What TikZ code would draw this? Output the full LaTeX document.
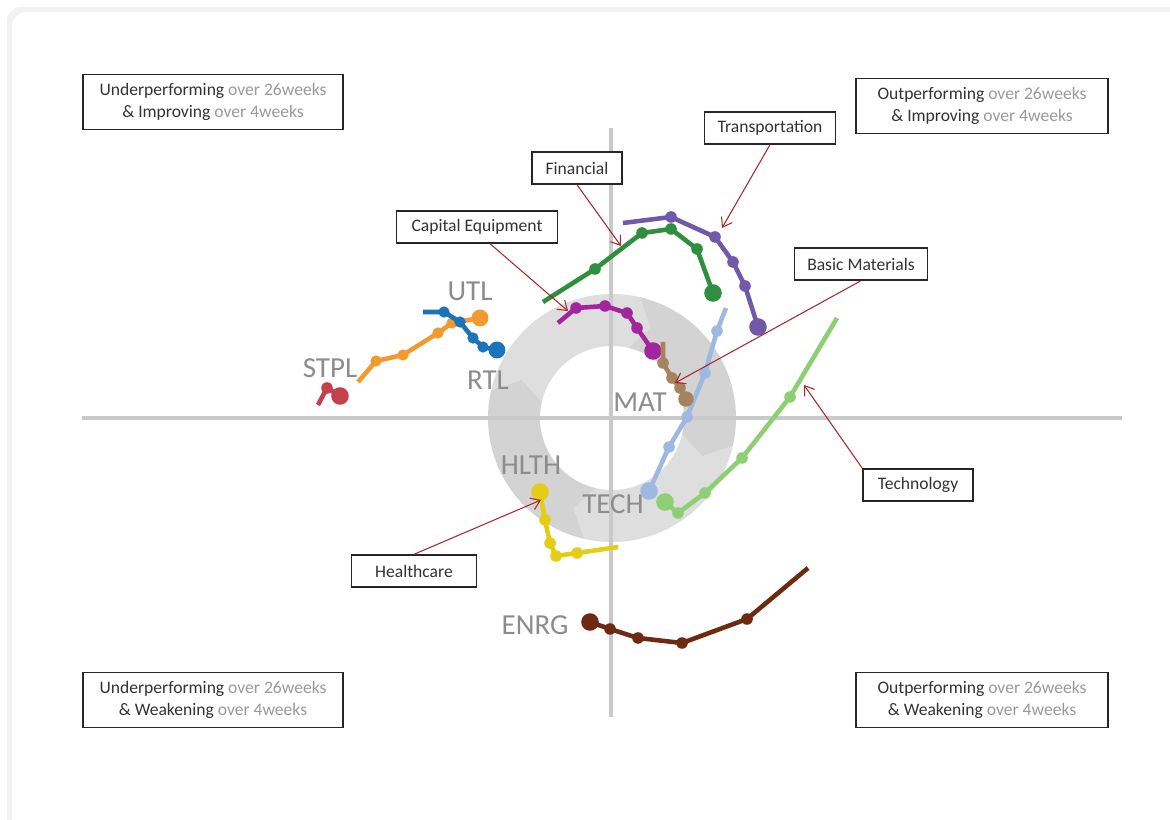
\documentclass[tikz,border=0pt]{standalone}
\usepackage{fontspec}
\setmainfont{Carlito}
\usetikzlibrary{arrows.meta}

\definecolor{axisgray}{HTML}{C9C9C9}
\definecolor{ringa}{HTML}{DEDEDE}
\definecolor{ringb}{HTML}{D3D3D3}
\definecolor{txtdark}{HTML}{333333}
\definecolor{txtgray}{HTML}{9A9A9A}
\definecolor{arrowred}{HTML}{A8282A}
\definecolor{stplcol}{HTML}{C4404A}
\definecolor{utlcol}{HTML}{F29A2E}
\definecolor{rtlcol}{HTML}{1B73BA}
\definecolor{fincol}{HTML}{2F8F3F}
\definecolor{trncol}{HTML}{7158A8}
\definecolor{capcol}{HTML}{A3259E}
\definecolor{matcol}{HTML}{A6835C}
\definecolor{techcol}{HTML}{9DB9E2}
\definecolor{tclcol}{HTML}{8DCF72}
\definecolor{hlthcol}{HTML}{E5CC15}
\definecolor{enrgcol}{HTML}{6E2A10}

\tikzstyle{quad} = [rectangle,draw=black!85,line width=0.8pt,fill=white,align=center,minimum height=1.1cm,text=txtdark]
\tikzstyle{callout} = [rectangle,draw=black!85,line width=0.8pt,fill=white,minimum height=0.64cm,text=txtdark]
\tikzstyle{pointer} = [draw=arrowred,line width=0.6pt,-{Straight Barb[length=5pt,width=7pt]}]
\tikzstyle{ticker} = [font=\fontsize{16.5}{18}\selectfont,text=black!45]
\tikzstyle{trail} = [line width=2.6pt,line join=round]
\tikzstyle{every node}=[font=\fontsize{10}{12.5}\selectfont]

\begin{document}
\begin{tikzpicture}[x=0.02cm,y=-0.02cm]
	\useasboundingbox (0,0) rectangle (1170,820);
	\fill[white] (0,0) rectangle (1170,820);
	\fill[black!5,rounded corners=8pt] (7,7) rectangle (1200,850);
	\fill[white,rounded corners=8pt] (12,12) rectangle (1200,850);
	\begin{scope}[shift={(612,418)}]
		\foreach \a/\b/\c in {13/103/ringa,103/193/ringb,193/283/ringa,283/373/ringb}
		{
		\pgfmathsetmacro\at{\a+10}
		\pgfmathsetmacro\bt{\b+10}
		\fill[\c] (\a:124) -- plot[domain=\a:\b,samples=40] (\x:124) -- (\bt:98) -- (\b:72)
			-- plot[domain=\b:\a,samples=40] (\x:72) -- (\at:98) -- cycle;
		}
	\end{scope}
	\draw[axisgray,line width=2.8pt] (82,418) -- (1122,418);
	\draw[axisgray,line width=2.8pt] (611,128) -- (611,717);

	\node[quad,minimum width=5.2cm] (q1) at (213,102) {Underperforming {\color{txtgray}over 26weeks}\\\& Improving {\color{txtgray}over 4weeks}};
	\node[quad,minimum width=5.04cm] (q2) at (982,106) {Outperforming {\color{txtgray}over 26weeks}\\\& Improving {\color{txtgray}over 4weeks}};
	\node[quad,minimum width=5.2cm] (q3) at (213,700) {Underperforming {\color{txtgray}over 26weeks}\\\& Weakening {\color{txtgray}over 4weeks}};
	\node[quad,minimum width=5.04cm] (q4) at (982,700) {Outperforming {\color{txtgray}over 26weeks}\\\& Weakening {\color{txtgray}over 4weeks}};

	\node[ticker] (stplt) at (330,368) {STPL};
	\node[ticker] (utlt) at (470,291) {UTL};
	\node[ticker] (rtlt) at (488,380) {RTL};
	\node[ticker] (matt) at (640,402) {MAT};
	\node[ticker] (techt) at (613,504) {TECH};
	\node[ticker] (hltht) at (531,465) {HLTH};
	\node[ticker] (enrgt) at (535,625) {ENRG};

	\draw[trail,stplcol] (318,405) -- (327,388) -- (340,396);
	\fill[stplcol] (327,388) circle (3.3pt) (340,396) circle (5pt);

	\draw[trail,utlcol] (358,382) -- (376,361) -- (403,355) -- (438,333) -- (452,323) -- (480,318);
	\foreach \x/\y in {376/361,403/355,438/333,452/323}
	{\fill[utlcol] (\x,\y) circle (3.2pt);}
	\fill[utlcol] (480,318) circle (4.8pt);

	\draw[trail,rtlcol] (423,312) -- (444,312) -- (460,322) -- (473,338) -- (483,347) -- (497,350);
	\foreach \x/\y in {444/312,460/322,473/338,483/347}
	{\fill[rtlcol] (\x,\y) circle (3.2pt);}
	\fill[rtlcol] (497,350) circle (4.8pt);

	\draw[trail,fincol] (543,302) -- (595,269) -- (642,233) -- (671,229) -- (697,249) -- (713,293);
	\foreach \x/\y in {595/269,642/233,671/229,697/249}
	{\fill[fincol] (\x,\y) circle (3.3pt);}
	\fill[fincol] (713,293) circle (5pt);

	\draw[trail,trncol] (623,223) -- (671,217) -- (715,237) -- (733,262) -- (745,286) -- (758,327);
	\foreach \x/\y in {671/217,715/237,733/262,745/286}
	{\fill[trncol] (\x,\y) circle (3.3pt);}
	\fill[trncol] (758,327) circle (5pt);

	\draw[trail,techcol] (726,308) -- (717,331) -- (705,373) -- (687,417) -- (669,447) -- (649,491);
	\foreach \x/\y in {717/331,705/373,687/417,669/447}
	{\fill[techcol] (\x,\y) circle (3.3pt);}
	\fill[techcol] (649,491) circle (5pt);

	\draw[trail,capcol] (558,323) -- (576,308) -- (605,306) -- (627,313) -- (637,328) -- (653,351);
	\foreach \x/\y in {576/308,605/306,627/313,637/328}
	{\fill[capcol] (\x,\y) circle (3.3pt);}
	\fill[capcol] (653,351) circle (5pt);

	\draw[trail,matcol] (663,342) -- (663,363) -- (672,378) -- (680,388) -- (686,399);
	\foreach \x/\y in {663/363,672/378,680/388}
	{\fill[matcol] (\x,\y) circle (3.3pt);}
	\fill[matcol] (686,399) circle (4.4pt);

	\draw[trail,tclcol] (837,318) -- (790,397) -- (742,458) -- (705,493) -- (678,513) -- (665,502);
	\foreach \x/\y in {790/397,742/458,705/493,678/513}
	{\fill[tclcol] (\x,\y) circle (3.3pt);}
	\fill[tclcol] (665,502) circle (5pt);

	\draw[trail,hlthcol] (618,547) -- (577,553) -- (556,556) -- (550,543) -- (545,520) -- (540,492);
	\foreach \x/\y in {577/553,556/556,550/543,545/520}
	{\fill[hlthcol] (\x,\y) circle (3.3pt);}
	\fill[hlthcol] (540,492) circle (5pt);

	\draw[trail,enrgcol] (808,568) -- (747,619) -- (682,643) -- (638,638) -- (610,629) -- (590,622);
	\foreach \x/\y in {747/619,682/643,638/638,610/629}
	{\fill[enrgcol] (\x,\y) circle (3.3pt);}
	\fill[enrgcol] (590,622) circle (5pt);

	\node[callout,minimum width=1.8cm] (finb) at (577,168) {Financial};
	\node[callout,minimum width=2.62cm] (trnb) at (770,128) {Transportation};
	\node[callout,minimum width=3.22cm] (capb) at (477,227) {Capital Equipment};
	\node[callout,minimum width=2.66cm] (basb) at (861,264) {Basic Materials};
	\node[callout,minimum width=2.2cm] (tclb) at (918,485) {Technology};
	\node[callout,minimum width=2.5cm] (hlthb) at (414,571) {Healthcare};

	\coordinate (fint) at (621,246);
	\coordinate (trnt) at (722,228);
	\coordinate (capt) at (568,311);
	\coordinate (bast) at (675,383);
	\coordinate (tclt) at (804,385);
	\coordinate (hltht) at (541,500);
	\draw[pointer] (finb.south) -- (fint);
	\draw[pointer] (trnb.south) -- (trnt);
	\draw[pointer] ([xshift=0.26cm]capb.south) -- (capt);
	\draw[pointer] (basb.south) -- (bast);
	\draw[pointer] (tclb.north west) -- (tclt);
	\draw[pointer] (hlthb.north) -- (hltht);
\end{tikzpicture}
\end{document}
